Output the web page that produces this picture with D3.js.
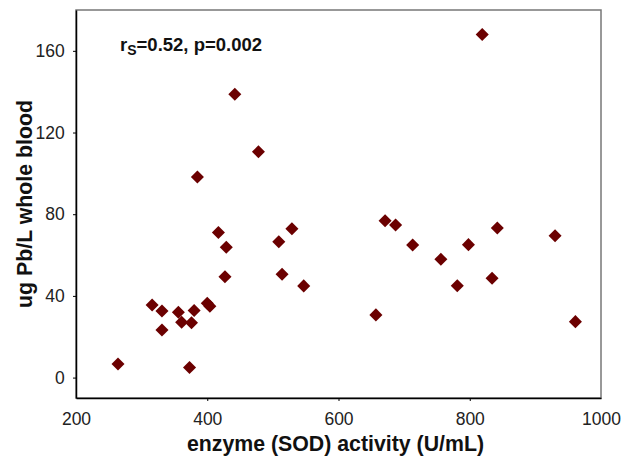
<!DOCTYPE html>
<html>
<head>
<meta charset="utf-8">
<script src="https://cdn.jsdelivr.net/npm/d3@7"></script>
<style>
	body { margin: 0; background: #fff; }
	text { font-family: "Liberation Sans", Arial, sans-serif; }
</style>
</head>
<body>
<div id="chart"></div>
<script>

// SOD activity (U/mL) and blood lead (ug Pb/L)
var sodActivity = [264, 316, 331, 331, 356, 361, 373, 376, 380, 400, 404, 417, 429, 427, 385, 442, 478,
	509, 529, 514, 547, 657, 671, 687, 713, 756, 781, 798, 819, 834, 842, 930, 961];
var bloodLead = [6.7, 35.5, 32.6, 23.3, 32, 27.1, 4.9, 26.9, 32.8, 36.4, 34.9, 71, 63.8, 49.4, 98.2, 138.7, 110.6,
	66.5, 72.9, 50.6, 44.9, 30.7, 76.8, 74.7, 64.9, 57.9, 45, 65.1, 168, 48.6, 73.2, 69.5, 27.4];

var xTicks = [200, 400, 600, 800, 1000];
var yTicks = [0, 40, 80, 120, 160];

var width = 628, height = 472;
var margin = { left: 76, right: 27, top: 10, bottom: 74 };

var svg = d3.select("#chart")
	.append("svg")
	.attr("width", width)
	.attr("height", height);

var x = d3.scaleLinear()
	.domain([200, 1000])
	.range([margin.left, width - margin.right]);

var y = d3.scaleLinear()
	.domain([-10, 180])
	.range([height - margin.bottom, margin.top]);

// frame: top and right in grey
svg.append("rect")
	.attr("x", margin.left)
	.attr("y", margin.top)
	.attr("width", width - margin.left - margin.right)
	.attr("height", height - margin.top - margin.bottom)
	.attr("fill", "none")
	.attr("stroke", "#777")
	.attr("stroke-width", 1.5);

var xAxis = svg.append("g")
	.attr("transform", "translate(0," + (height - margin.bottom) + ")")
	.call(d3.axisBottom(x).tickValues(xTicks).tickFormat(d3.format("d")).tickSize(3).tickSizeOuter(0));

var yAxis = svg.append("g")
	.attr("transform", "translate(" + margin.left + ",0)")
	.call(d3.axisLeft(y).tickValues(yTicks).tickSize(3).tickSizeOuter(0));

[xAxis, yAxis].forEach(function(a) {
	a.select(".domain").attr("stroke", "#000").attr("stroke-width", 1.5);
	a.selectAll(".tick line").attr("stroke", "#000");
	a.selectAll(".tick text")
		.attr("font-size", 17.5)
		.attr("fill", "#222")
		.style("font-family", "Liberation Sans, Arial, sans-serif");
});
xAxis.selectAll(".tick text").attr("dy", "1.2em");
yAxis.selectAll(".tick text").attr("dx", "-0.3em");
// the end ticks sit on the frame corners, hide their lines
xAxis.selectAll(".tick line").filter(function(d) { return d === 200 || d === 1000; }).remove();

var diamond = d3.symbol().type(d3.symbolSquare).size(85);

svg.append("g")
	.selectAll("path")
	.data(sodActivity)
	.enter()
	.append("path")
	.attr("d", diamond)
	.attr("transform", function(d, i) {
		return "translate(" + x(d) + "," + y(bloodLead[i]) + ") rotate(45)";
	})
	.attr("fill", "#6b0000");

// correlation note
var note = svg.append("text")
	.attr("x", 120)
	.attr("y", 51)
	.attr("font-size", 18.5)
	.attr("font-weight", "bold")
	.attr("fill", "#111");
note.append("tspan").text("r");
note.append("tspan").attr("font-size", 14).attr("dy", 4).text("S");
note.append("tspan").attr("dy", -4).text("=0.52, p=0.002");

svg.append("text")
	.attr("x", x(600) - 3)
	.attr("y", 451)
	.attr("text-anchor", "middle")
	.attr("font-size", 21.3)
	.attr("font-weight", "bold")
	.attr("fill", "#111")
	.text("enzyme (SOD) activity (U/mL)");

svg.append("text")
	.attr("transform", "translate(32,204) rotate(-90)")
	.attr("text-anchor", "middle")
	.attr("font-size", 21.3)
	.attr("font-weight", "bold")
	.attr("fill", "#111")
	.text("ug Pb/L whole blood");

</script>
</body>
</html>
